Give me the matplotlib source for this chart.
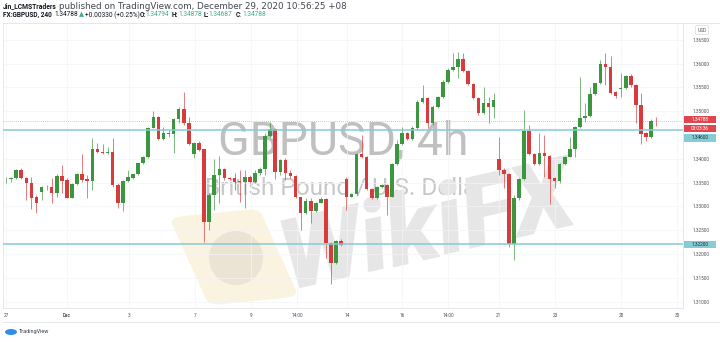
import matplotlib
matplotlib.use('Agg')
import matplotlib.pyplot as plt
from matplotlib.patches import FancyBboxPatch, Ellipse, Rectangle
from matplotlib.transforms import Affine2D
import numpy as np

# GBPUSD 4h candles, Nov 27 - Dec 29 2020
opens = [
    1.33573, 1.33566, 1.33601, 1.33762, 1.33601, 1.33482, 1.33188, 1.33300, 1.33398, 1.33412,
    1.33272, 1.33643, 1.33545, 1.33181, 1.33468, 1.33671, 1.33566, 1.33524, 1.34203, 1.34147,
    1.34112, 1.34147, 1.33447, 1.33062, 1.33531, 1.33601, 1.33671, 1.33902, 1.34028, 1.34652,
    1.34876, 1.34414, 1.34547, 1.34519, 1.34834, 1.35037, 1.34743, 1.34098, 1.34322, 1.34196,
    1.32677, 1.33237, 1.33657, 1.33776, 1.33587, 1.33587, 1.33524, 1.33517, 1.33622, 1.33517,
    1.33692, 1.33776, 1.34477, 1.34617, 1.33727, 1.33972, 1.33692, 1.33636, 1.33188, 1.32852,
    1.33118, 1.32901, 1.33076, 1.33146, 1.32222, 1.31816, 1.32264, 1.33566, 1.33202, 1.33251,
    1.34098, 1.34042, 1.33356, 1.33167, 1.33398, 1.33447, 1.33202, 1.33889, 1.34302, 1.34533,
    1.34407, 1.34638, 1.35198, 1.35268, 1.34743, 1.35093, 1.35289, 1.35618, 1.35863, 1.35933,
    1.36095, 1.35849, 1.35569, 1.35268, 1.34953, 1.35163, 1.35093, 1.33987, 1.33763, 1.33679,
    1.32208, 1.33167, 1.33567, 1.34589, 1.34099, 1.33889, 1.34127, 1.34057, 1.33588, 1.33532,
    1.33889, 1.34043, 1.34197, 1.34659, 1.34848, 1.34897, 1.35359, 1.35583, 1.35990, 1.35919,
    1.35408, 1.35457, 1.35492, 1.35744, 1.35548, 1.35128, 1.34533, 1.34463, 1.34794]
highs = [
    1.33622, 1.33622, 1.33776, 1.33811, 1.33622, 1.33622, 1.33237, 1.33426, 1.33447, 1.33587,
    1.33678, 1.33867, 1.33587, 1.33482, 1.33692, 1.34098, 1.33657, 1.34428, 1.34336, 1.34301,
    1.34252, 1.34428, 1.33482, 1.33552, 1.33762, 1.33678, 1.33916, 1.34056, 1.34673, 1.35009,
    1.34897, 1.34673, 1.34603, 1.34848, 1.35093, 1.35408, 1.34883, 1.34357, 1.34371, 1.34210,
    1.33272, 1.33986, 1.34056, 1.33797, 1.33622, 1.33692, 1.33762, 1.33762, 1.33657, 1.33762,
    1.33818, 1.34533, 1.34778, 1.34638, 1.33986, 1.34007, 1.33762, 1.33657, 1.33202, 1.33167,
    1.33167, 1.33097, 1.33202, 1.33167, 1.32257, 1.32292, 1.32306, 1.33587, 1.33272, 1.34112,
    1.34498, 1.34056, 1.33377, 1.33426, 1.33468, 1.33468, 1.33902, 1.34393, 1.34659, 1.34568,
    1.34687, 1.35233, 1.35548, 1.35303, 1.35128, 1.35317, 1.35653, 1.35898, 1.36214, 1.36249,
    1.36214, 1.35863, 1.35583, 1.35289, 1.35513, 1.35303, 1.35373, 1.34463, 1.33798, 1.33693,
    1.33237, 1.33588, 1.35023, 1.34708, 1.34113, 1.34533, 1.34498, 1.34078, 1.33623, 1.33903,
    1.34057, 1.34463, 1.34687, 1.35723, 1.35163, 1.35513, 1.35597, 1.36073, 1.36214, 1.36157,
    1.35429, 1.35793, 1.35758, 1.35772, 1.35562, 1.35373, 1.34568, 1.34827, 1.34878]
lows = [
    1.33482, 1.33517, 1.33580, 1.33573, 1.33132, 1.32936, 1.32866, 1.33132, 1.33342, 1.33062,
    1.33188, 1.33272, 1.33167, 1.33167, 1.33447, 1.33517, 1.33167, 1.33342, 1.34112, 1.34091,
    1.34098, 1.33412, 1.32957, 1.32901, 1.33517, 1.33580, 1.33650, 1.33888, 1.34007, 1.34638,
    1.34393, 1.34393, 1.34463, 1.34112, 1.34743, 1.34708, 1.34287, 1.34007, 1.34168, 1.32257,
    1.32502, 1.32922, 1.33062, 1.33552, 1.33552, 1.33342, 1.33097, 1.32957, 1.33482, 1.33482,
    1.33657, 1.33657, 1.34463, 1.33566, 1.33657, 1.33552, 1.33587, 1.33167, 1.32502, 1.32838,
    1.32656, 1.32887, 1.33062, 1.31907, 1.31367, 1.31788, 1.32173, 1.32922, 1.33188, 1.33237,
    1.34007, 1.33342, 1.33146, 1.33146, 1.33377, 1.32817, 1.33188, 1.33868, 1.34288, 1.34393,
    1.34393, 1.34603, 1.35163, 1.34638, 1.34708, 1.35058, 1.35268, 1.35583, 1.35849, 1.35688,
    1.35828, 1.35548, 1.35247, 1.34918, 1.34939, 1.34743, 1.34848, 1.33658, 1.33378, 1.32138,
    1.31872, 1.33132, 1.33553, 1.34078, 1.33868, 1.33868, 1.33623, 1.33048, 1.33378, 1.33497,
    1.33868, 1.34029, 1.34043, 1.34638, 1.34778, 1.34883, 1.35338, 1.35569, 1.35548, 1.35359,
    1.35268, 1.35303, 1.35457, 1.35513, 1.34757, 1.34309, 1.34379, 1.34442, 1.34687]
closes = [
    1.33580, 1.33601, 1.33762, 1.33587, 1.33482, 1.33181, 1.33062, 1.33412, 1.33412, 1.33272,
    1.33636, 1.33538, 1.33181, 1.33468, 1.33671, 1.33552, 1.33524, 1.34203, 1.34133, 1.34112,
    1.34147, 1.33447, 1.33062, 1.33531, 1.33608, 1.33671, 1.33902, 1.34028, 1.34652, 1.34876,
    1.34414, 1.34547, 1.34519, 1.34834, 1.35037, 1.34743, 1.34301, 1.34322, 1.34182, 1.32677,
    1.33237, 1.33657, 1.33776, 1.33587, 1.33580, 1.33517, 1.33510, 1.33622, 1.33517, 1.33692,
    1.33776, 1.34477, 1.34617, 1.33727, 1.33972, 1.33706, 1.33636, 1.33188, 1.32852, 1.33118,
    1.32901, 1.33076, 1.33146, 1.32222, 1.31816, 1.32264, 1.32187, 1.33202, 1.33251, 1.34098,
    1.34042, 1.33356, 1.33167, 1.33398, 1.33447, 1.33202, 1.33888, 1.34302, 1.34533, 1.34407,
    1.34638, 1.35198, 1.35268, 1.34743, 1.35093, 1.35289, 1.35618, 1.35863, 1.35933, 1.36095,
    1.35849, 1.35569, 1.35268, 1.34953, 1.35163, 1.35093, 1.35233, 1.33763, 1.33679, 1.32208,
    1.33167, 1.33567, 1.34589, 1.34099, 1.33889, 1.34127, 1.34057, 1.33567, 1.33532, 1.33889,
    1.34043, 1.34197, 1.34659, 1.34848, 1.34897, 1.35359, 1.35583, 1.35990, 1.35919, 1.35387,
    1.35324, 1.35492, 1.35744, 1.35548, 1.35128, 1.34519, 1.34463, 1.34794, 1.34788]

tick_pos = [0, 12, 24.2, 37.2, 48.2, 57.3, 67.1, 78, 87, 97, 108.1, 121.1, 132.1]
tick_labels = ['27', 'Dec', '3', '7', '9', '14:00', '14', '16', '14:00', '21', '23', '28', '30']
price_ticks = [1.310, 1.315, 1.320, 1.325, 1.330, 1.335, 1.340, 1.350, 1.355, 1.360, 1.365]
levels = [1.34600, 1.32200]
last_price = 1.34788
countdown = '03:03:36'

W, H = 720, 342
UP, DOWN = '#3c963f', '#d83b3b'
TEAL = '#86cbd6'
RED = '#e0464f'
AXC = '#50535e'
plt.rcParams['font.family'] = ['Roboto', 'DejaVu Sans']

fig = plt.figure(figsize=(W / 100, H / 100), dpi=100)
fig.patch.set_facecolor('white')
ax = fig.add_axes([3 / W, (H - 308) / H, 680 / W, 285 / H])
ax.set_facecolor('none')

o = np.array(opens); h = np.array(highs); l = np.array(lows); c = np.array(closes)
x = np.arange(len(o))
col = np.where(c >= o, UP, DOWN)
ax.vlines(x, l, h, colors=col, lw=0.55, zorder=4, alpha=0.85)
body = np.maximum(np.abs(c - o), 0.00004)
ax.bar(x, body, bottom=np.minimum(o, c), width=0.7, color=col, lw=0, zorder=5)

for lv in levels:
    ax.axhline(lv, color=TEAL, lw=1.1, zorder=6)
ax.axhline(last_price, color='#e8a3a3', lw=0.6, ls=(0, (1, 1.5)), zorder=3)

ax.set_xlim(-0.59, 133.27)
ax.set_ylim(1.308635, 1.36851)
ax.set_xticks(tick_pos)
ax.set_xticklabels(tick_labels)
ax.set_yticks(price_ticks)
ax.set_yticklabels(['%.5f' % p for p in price_ticks])
ax.yaxis.tick_right()
ax.tick_params(axis='y', length=0, pad=7, labelsize=3.4, labelcolor=AXC)
ax.tick_params(axis='x', length=0, pad=3.5, labelsize=3.4, labelcolor=AXC)
for t in ax.get_xticklabels():
    if t.get_text() == 'Dec':
        t.set_fontweight('bold')
ax.grid(True, color='#f3f4f7', lw=0.5)
ax.set_axisbelow(True)
for s in ax.spines.values():
    s.set_color('#e0e3eb')
    s.set_linewidth(0.6)

fig.add_artist(plt.Line2D([3 / W, 1], [1 - 322 / H] * 2, color='#e0e3eb', lw=0.6))
fig.add_artist(plt.Line2D([683 / W, 1], [1 - 23 / H] * 2, color='#e0e3eb', lw=0.6))

fig.canvas.draw()
renderer = fig.canvas.get_renderer()


def fit_text(xp, yp, s, width, ha='left', **kw):
    # real text, font size chosen so that it spans `width` pixels
    t = fig.text(xp / W, 1 - yp / H, s, fontsize=10, ha=ha, **kw)
    w = t.get_window_extent(renderer).width
    t.set_fontsize(10 * width / w)
    return t


# watermarks, under the candles
fit_text(343, 141, 'GBPUSD, 4h', 250, ha='center', va='center', color='#c0c0c0', zorder=-1)
fit_text(345, 188, 'British Pound / U.S. Dollar', 279, ha='center', va='center',
         color='#c8c8c8', zorder=-1)

logo = FancyBboxPatch((188 / W, 1 - 302 / H), 92 / W, 90 / H,
                      boxstyle='round,pad=0.0,rounding_size=0.02', transform=fig.transFigure,
                      fc='#f9efd2', ec='none', alpha=0.7, zorder=-2)
logo.set_transform(Affine2D().rotate_deg_around(234 / W, 1 - 257 / H, 12) + fig.transFigure)
fig.add_artist(logo)
fig.add_artist(Ellipse((236 / W, 1 - 258 / H), 54 / W, 54 / H, transform=fig.transFigure,
                       fc='#e2dbcf', ec='none', alpha=0.6, zorder=-2))
wk = fit_text(428, 230, 'WikiFX', 300, ha='center', va='center', color='#e6e6e6',
              fontweight='heavy', style='italic', zorder=-1)
wk.set_rotation(13)
wk.set_rotation_mode('anchor')


def ypix(p):
    return H - ax.transData.transform((0, p))[1]


def axis_box(yc, s, fc, tc):
    fig.add_artist(Rectangle((684 / W, 1 - (yc + 3.6) / H), 32 / W, 7.2 / H,
                             transform=fig.transFigure, fc=fc, ec='none', zorder=20))
    fig.text(700 / W, 1 - yc / H, s, fontsize=3.4, color=tc, va='center', ha='center', zorder=21)


axis_box(ypix(last_price) - 1.5, '%.5f' % last_price, RED, 'white')
axis_box(ypix(last_price) + 7.3, countdown, RED, 'white')
axis_box(ypix(levels[0]) + 7.8, '%.5f' % levels[0], TEAL, '#1d2b3a')
axis_box(ypix(levels[1]), '%.5f' % levels[1], TEAL, '#1d2b3a')
fig.text(702 / W, 1 - 30 / H, 'USD', fontsize=3.4, color=AXC, va='center', ha='center',
         bbox=dict(boxstyle='round,pad=0.45', fc='white', ec='#cfd2da', lw=0.4))

# header
GRN = '#3cab8c'
DK = '#131722'
t1 = fig.text(3 / W, 1 - 6.5 / H, 'Jin_LCMSTraders', fontsize=4.9, color=DK,
              fontweight='bold', va='center', ha='left')
x1 = 3 + t1.get_window_extent(renderer).width + 2.5
fit_text(x1, 6.5, 'published on TradingView.com, December 29, 2020 10:56:25 +08', 347 - x1,
         va='center', color='#434651', family=['DejaVu Sans'])
line2 = [(3, 'FX:GBPUSD, 240', DK, 'bold'), (54, '1.34788', DK, 'normal'),
         (79, '\u25b2', GRN, 'normal'), (85, '+0.00330 (+0.25%)', DK, 'normal'),
         (140, 'O:', DK, 'bold'), (145.5, '1.34794', GRN, 'normal'),
         (172, 'H:', DK, 'bold'), (178, '1.34878', GRN, 'normal'),
         (204, 'L:', DK, 'bold'), (208.5, '1.34687', GRN, 'normal'),
         (236, 'C:', DK, 'bold'), (242, '1.34788', GRN, 'normal')]
for xp, s, cc, wt in line2:
    fig.text(xp / W, 1 - 15 / H, s, fontsize=4.7, color=cc, fontweight=wt, va='center', ha='left')

# TradingView footer
fig.add_artist(Ellipse((11 / W, 1 - 332 / H), 12 / W, 6 / H, transform=fig.transFigure,
                       fc='#2f8fe6', ec='none'))
fig.text(19 / W, 1 - 331.5 / H, 'TradingView', fontsize=4, color='#3a3e4a', va='center', ha='left')

fig.savefig('out.png', dpi=100)
